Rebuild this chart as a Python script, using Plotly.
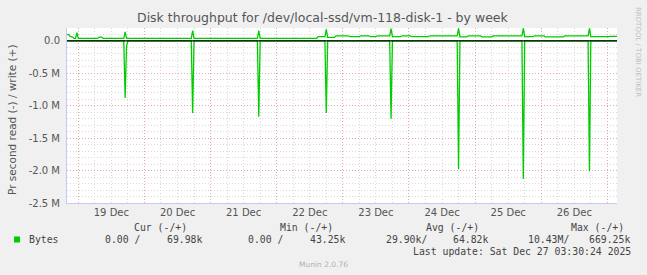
import plotly.graph_objects as go

# ---------------- data ----------------
write_times = [
    "2025-12-18 20:00", "2025-12-18 20:30", "2025-12-18 21:00", "2025-12-18 22:00",
    "2025-12-18 22:30", "2025-12-18 23:00", "2025-12-18 23:30", "2025-12-19 00:00",
    "2025-12-19 07:00", "2025-12-19 07:30", "2025-12-19 08:30", "2025-12-19 09:00",
    "2025-12-19 16:30", "2025-12-19 17:00", "2025-12-19 17:30",
    "2025-12-20 17:00", "2025-12-20 17:30", "2025-12-20 18:00",
    "2025-12-21 17:00", "2025-12-21 17:30", "2025-12-21 18:00",
    "2025-12-22 14:30", "2025-12-22 15:00", "2025-12-22 17:30", "2025-12-22 18:00",
    "2025-12-22 18:30", "2025-12-22 21:00", "2025-12-22 21:30", "2025-12-23 02:00",
    "2025-12-23 02:30", "2025-12-23 06:00", "2025-12-23 06:30", "2025-12-23 09:30",
    "2025-12-23 10:00", "2025-12-23 12:00", "2025-12-23 12:30", "2025-12-23 17:00",
    "2025-12-23 17:30", "2025-12-23 18:00", "2025-12-23 21:00", "2025-12-23 21:30",
    "2025-12-24 00:30", "2025-12-24 01:00", "2025-12-24 07:00", "2025-12-24 07:30",
    "2025-12-24 17:30", "2025-12-24 18:00", "2025-12-24 18:30", "2025-12-24 21:00",
    "2025-12-24 21:30", "2025-12-25 02:00", "2025-12-25 02:30", "2025-12-25 06:00",
    "2025-12-25 06:30", "2025-12-25 17:00", "2025-12-25 17:30", "2025-12-25 18:00",
    "2025-12-25 21:00", "2025-12-25 21:30", "2025-12-26 01:00", "2025-12-26 01:30",
    "2025-12-26 08:00", "2025-12-26 08:30", "2025-12-26 17:00", "2025-12-26 17:30",
    "2025-12-26 18:00", "2025-12-27 00:30", "2025-12-27 01:00", "2025-12-27 03:30",
]
write_values = [
    100000, 100000, 70000, 60000,
    40000, 40000, 130000, 40000,
    40000, 60000, 60000, 40000,
    40000, 140000, 40000,
    40000, 160000, 40000,
    40000, 160000, 40000,
    40000, 66000, 66000, 180000,
    56000, 56000, 80000, 80000,
    66000, 66000, 80000, 80000,
    66000, 66000, 80000, 80000,
    190000, 66000, 66000, 80000,
    80000, 66000, 66000, 80000,
    80000, 195000, 62000, 62000,
    78000, 78000, 62000, 62000,
    78000, 78000, 195000, 66000,
    66000, 78000, 78000, 62000,
    62000, 78000, 78000, 195000,
    66000, 66000, 72000, 70000,
]

read_times = [
    "2025-12-18 19:54", "2025-12-19 16:30", "2025-12-19 17:00", "2025-12-19 17:30", "2025-12-19 18:00",
    "2025-12-20 17:00", "2025-12-20 17:30", "2025-12-20 18:00",
    "2025-12-21 17:00", "2025-12-21 17:30", "2025-12-21 18:00",
    "2025-12-22 17:30", "2025-12-22 18:00", "2025-12-22 18:30",
    "2025-12-23 17:00", "2025-12-23 17:30", "2025-12-23 18:00",
    "2025-12-24 17:30", "2025-12-24 18:00", "2025-12-24 18:30",
    "2025-12-25 17:00", "2025-12-25 17:30", "2025-12-25 18:00",
    "2025-12-26 17:00", "2025-12-26 17:30", "2025-12-26 18:00",
    "2025-12-27 03:30",
]
read_values = [
    0, 0, -880000, -80000, 0,
    0, -1110000, 0,
    0, -1170000, 0,
    0, -1110000, 0,
    0, -1200000, 0,
    0, -1975000, 0,
    0, -2130000, 0,
    0, -2010000, 0,
    0,
]

ytick_vals = [0, -500000, -1000000, -1500000, -2000000, -2500000]
ytick_text = ["0.0", "-0.5 M", "-1.0 M", "-1.5 M", "-2.0 M", "-2.5 M"]

title_text = "Disk throughput for /dev/local-ssd/vm-118-disk-1 - by week"
ytitle_text = "Pr second read (-) / write (+)"
side_text = "RRDTOOL / TOBI OETIKER"
legend_headers = ["Cur (-/+)", "Min (-/+)", "Avg (-/+)", "Max (-/+)"]
series_name = "Bytes"
legend_values = ["0.00 /", "69.98k", "0.00 /", "43.25k", "29.90k/", "64.82k", "10.43M/", "669.25k"]
last_update = "Last update: Sat Dec 27 03:30:24 2025"
footer = "Munin 2.0.76"

# ---------------- layout geometry ----------------
W, H = 647, 275
L, R, T, B = 67, 30, 28, 72
PW, PH = W - L - R, H - T - B


def px(x):
    return (x - L) / PW


def py(y):
    return (H - B - y) / PH


GREEN = "#00cc00"
TXT = "#555555"
MONO = "DejaVu Sans Mono"

fig = go.Figure()
fig.add_trace(go.Scatter(x=read_times, y=read_values, mode="lines",
                         line=dict(color=GREEN, width=1.3), hoverinfo="skip"))
fig.add_trace(go.Scatter(x=write_times, y=write_values, mode="lines",
                         line=dict(color=GREEN, width=1.3), hoverinfo="skip"))

annotations = []


def ann(text, x, y, size=10, color=TXT, family="DejaVu Sans", xanchor="center",
        yanchor="middle", angle=0):
    annotations.append(dict(text=text, x=px(x), y=py(y), xref="paper", yref="paper",
                            showarrow=False, xanchor=xanchor, yanchor=yanchor,
                            textangle=angle, font=dict(size=size, color=color, family=family)))


ann(title_text, 323, 18, size=12.5)
ann(ytitle_text, 12, 120, size=10.5, angle=-90)
ann(side_text, 638, 52, size=7, color="#c0c0c0", angle=90)

header_right = [189, 335, 481, 626]
for t, xr in zip(legend_headers, header_right):
    ann(t, xr, 227.5, size=9.8, family=MONO, xanchor="right", color="#444444")

ann(series_name, 26.5, 239.5, size=9.8, family=MONO, xanchor="left", color="#444444")
value_right = [142, 204, 285, 347, 429, 490, 571, 632]
for t, xr in zip(legend_values, value_right):
    ann(t, xr, 239.5, size=9.8, family=MONO, xanchor="right", color="#444444")
ann(last_update, 632.5, 251, size=9.8, family=MONO, xanchor="right", color="#444444")
ann(footer, 323, 264.5, size=7.5, color="#b0b0b0")

shapes = [
    dict(type="line", xref="paper", yref="y", x0=0, x1=1, y0=0, y1=0,
         line=dict(color="black", width=1.2), layer="above"),
    dict(type="rect", xref="paper", yref="paper", x0=px(14), x1=px(20),
         y0=py(242.5), y1=py(236.5), fillcolor=GREEN, line=dict(width=0)),
]

MAJOR = "#e8a8a8"
MINOR = "#d8d8d8"
AXIS = "#c8c8f4"

fig.update_layout(
    width=W, height=H,
    margin=dict(l=L, r=R, t=T, b=B),
    paper_bgcolor="#f0f0f0",
    plot_bgcolor="white",
    showlegend=False,
    font=dict(family="DejaVu Sans", size=10, color=TXT),
    annotations=annotations,
    shapes=shapes,
    xaxis=dict(
        type="date",
        range=["2025-12-18 19:54", "2025-12-27 03:30"],
        tick0="2025-12-19", dtick=86400000,
        ticklabelmode="period", tickformat="%d %b",
        showgrid=True, gridcolor=MAJOR, griddash="1px,2px", gridwidth=1,
        minor=dict(dtick=21600000, tick0="2025-12-19", showgrid=True,
                   gridcolor=MINOR, griddash="1px,2px", gridwidth=1),
        showline=True, linecolor=AXIS, linewidth=1,
        zeroline=False, ticks="", tickfont=dict(size=10, color=TXT),
        fixedrange=True,
    ),
    yaxis=dict(
        range=[-2500000, 200000],
        tickmode="array", tickvals=ytick_vals, ticktext=ytick_text,
        showgrid=True, gridcolor=MAJOR, griddash="1px,2px", gridwidth=1,
        minor=dict(tick0=0, dtick=100000, showgrid=True,
                   gridcolor=MINOR, griddash="1px,2px", gridwidth=1),
        showline=True, linecolor=AXIS, linewidth=1,
        zeroline=False, ticks="", ticklabelstandoff=4,
        tickfont=dict(size=10, color=TXT),
        fixedrange=True,
    ),
)

fig.write_html("out.html", config={"displayModeBar": False})
